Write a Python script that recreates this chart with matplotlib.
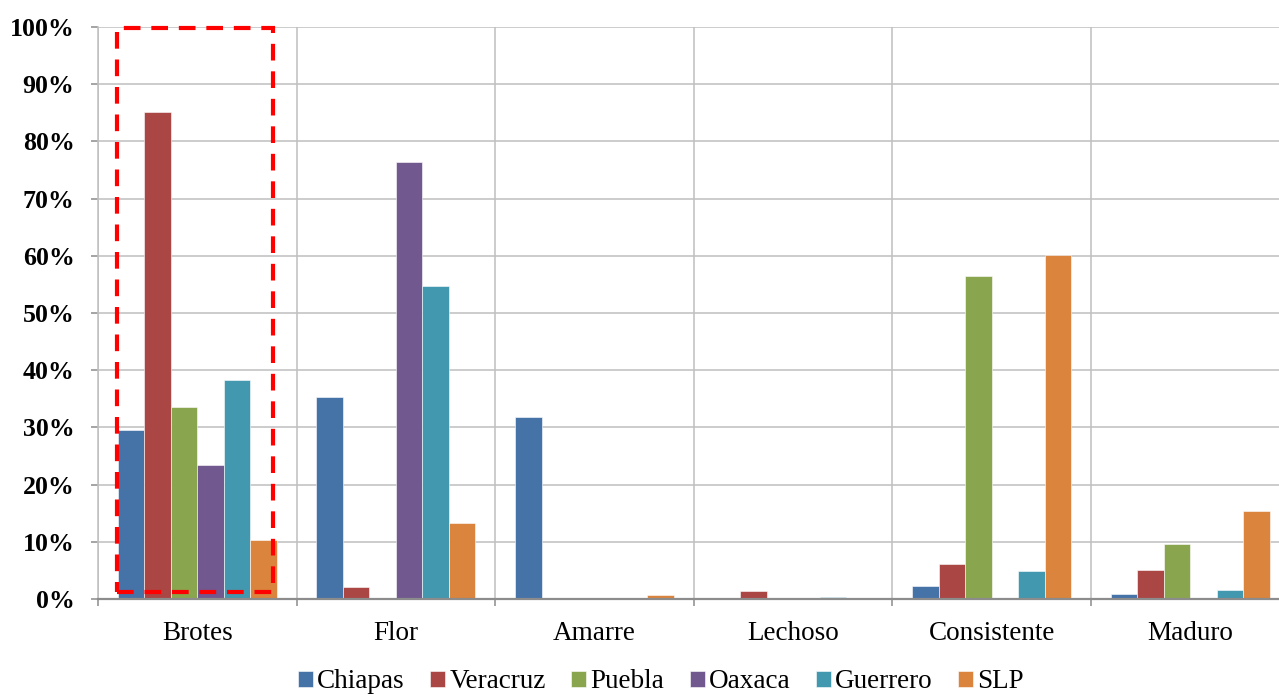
import matplotlib
matplotlib.use("Agg")
import matplotlib.pyplot as plt
import numpy as np
from matplotlib.patches import Rectangle
from matplotlib.ticker import FixedLocator, FuncFormatter

# Growth stages (categories) and states (series), values in percent
stages = ["Brotes", "Flor", "Amarre", "Lechoso", "Consistente", "Maduro"]
states = ["Chiapas", "Veracruz", "Puebla", "Oaxaca", "Guerrero", "SLP"]

chiapas = [29.5, 35.3, 31.8, 0.1, 2.3, 0.9]
veracruz = [85.1, 2.1, 0.0, 1.35, 6.2, 5.1]
puebla = [33.6, 0.0, 0.0, 0.1, 56.5, 9.7]
oaxaca = [23.5, 76.4, 0.0, 0.0, 0.0, 0.0]
guerrero = [38.3, 54.7, 0.0, 0.35, 4.9, 1.6]
slp = [10.3, 13.3, 0.75, 0.0, 60.1, 15.4]

series = [chiapas, veracruz, puebla, oaxaca, guerrero, slp]
colors = ["#4572A7", "#AA4643", "#89A54E", "#71588F", "#4198AF", "#DB843D"]

plt.rcParams["font.family"] = ["Liberation Serif", "DejaVu Serif"]

W, H = 1279, 695
fig = plt.figure(figsize=(W / 100, H / 100), dpi=100)
ax = fig.add_axes([98 / W, (H - 599) / H, 1191.6 / W, 572 / H])

x = np.arange(len(stages))
n = len(states)
bw = 0.8 / n
for j, (vals, col, name) in enumerate(zip(series, colors, states)):
    ax.bar(x + (j - (n - 1) / 2) * bw, vals, width=bw, color=col,
           edgecolor="#ffffff", linewidth=0.4, label=name, zorder=3)

ax.set_xlim(-0.5, len(stages) - 0.5)
ax.set_ylim(0, 100)

grid_c = "#BFBFBF"
axis_c = "#8C8C8C"
ax.set_yticks(np.arange(0, 101, 10))
ax.yaxis.set_major_formatter(FuncFormatter(lambda v, p: f"{int(v)}%"))
ax.yaxis.grid(True, color=grid_c, linewidth=1.1, zorder=0)
ax.tick_params(axis="y", direction="out", length=5, width=1.1, color=axis_c,
               pad=12, labelsize=18.6)
for lbl in ax.get_yticklabels():
    lbl.set_fontweight("bold")

ax.set_xticks(x)
ax.set_xticklabels(stages, fontsize=19.5)
ax.tick_params(axis="x", which="major", length=0, pad=16)
ax.xaxis.set_minor_locator(FixedLocator(np.arange(-0.5, len(stages), 1.0)))
ax.tick_params(axis="x", which="minor", direction="out", length=5, width=1.1,
               color=axis_c)
ax.xaxis.grid(True, which="minor", color=grid_c, linewidth=1.1, zorder=0)
ax.set_axisbelow(True)

for s in ("top", "right"):
    ax.spines[s].set_visible(False)
ax.spines["left"].set_color(grid_c)
ax.spines["left"].set_linewidth(1.1)
ax.spines["bottom"].set_color(axis_c)
ax.spines["bottom"].set_linewidth(1.6)
ax.spines["bottom"].set_zorder(4)

# Highlight box around the first stage
box = Rectangle((-0.405, 1.2), 0.784, 98.7, fill=False, edgecolor="#FF0000",
                linewidth=3, linestyle=(0, (4, 2.6)), zorder=5, clip_on=False)
ax.add_patch(box)

fig.legend(loc="center", bbox_to_anchor=(661 / W, 1 - 682 / H), ncol=n,
           frameon=False, fontsize=19.5, handlelength=0.55, handleheight=0.55,
           handletextpad=0.15, columnspacing=0.95, borderaxespad=0)

fig.savefig("out.png", dpi=100)
